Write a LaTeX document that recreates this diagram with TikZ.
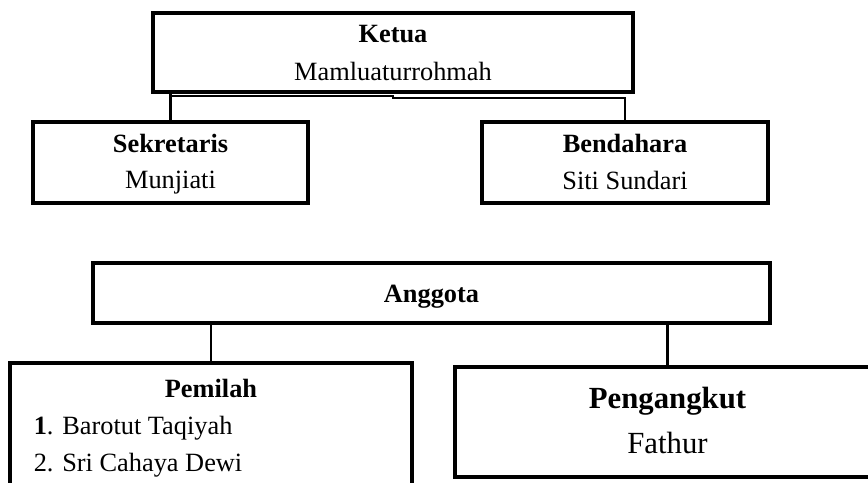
\documentclass[tikz,border=0pt]{standalone}
\usepackage{fontspec}
\setmainfont{Liberation Serif}
\usetikzlibrary{positioning, fit}
\tikzset{
x=0.016cm, y=-0.016cm, % one unit is one pixel of the sketch, y going down
box/.style={draw, line width=1.8pt, inner sep=0pt}, % the framed boxes
conn/.style={line width=1.1pt}, % the lines joining the boxes
txt/.style={anchor=base, font=\fontsize{12}{14}\selectfont}, % text in a box
bigtxt/.style={anchor=base, font=\fontsize{14}{16}\selectfont}, % bigger text
}
\begin{document}
\begin{tikzpicture}
    \clip (0,0) rectangle (868,482);
    \fill[white] (0,0) rectangle (868,482);
    % pengurus
    \node[box, fit={(153,13) (633,92)}] (ketua) {};
    \node[box, fit={(33,122) (308,203)}] (sek) {};
    \node[box, fit={(482,122) (768,203)}] (bend) {};
    \node[txt] (ketuaT) at (393,42) {\textbf{Ketua}};
    \node[txt] (ketuaN) at (393,80) {Mamluaturrohmah};
    \node[txt] (sekT) at (170.5,152) {\textbf{Sekretaris}};
    \node[txt] (sekN) at (170.5,188) {Munjiati};
    \node[txt] (bendT) at (625,152) {\textbf{Bendahara}};
    \node[txt] (bendN) at (625,189) {Siti Sundari};
    % anggota
    \node[box, fit={(93,263) (770,323)}] (anggota) {};
    \node[box, fit={(10,363) (412,500)}] (pemilah) {};
    \node[box, fit={(455,367) (880,477)}] (angkut) {};
    \node[txt] (anggotaT) at (431.5,302) {\textbf{Anggota}};
    \node[txt] (pemilahT) at (211,397) {\textbf{Pemilah}};
    \node[txt, anchor=base west] (pem1) at (26,434) {\textbf{1}. Barotut Taqiyah};
    \node[txt, anchor=base west] (pem2) at (26,471) {2. Sri Cahaya Dewi};
    \node[bigtxt] (angkutT) at (667.5,408) {\textbf{Pengangkut}};
    \node[bigtxt] (angkutN) at (667.5,453) {Fathur};
    % garis
    \coordinate (stepL) at (393,96);
    \coordinate (stepR) at (393,98);
    \draw[conn] (ketua.south -| sek.north) -- (sek.north);
    \draw[conn] (sek.north |- stepL) -- (stepL) -- (stepR) -| (bend.north);
    \draw[conn] (anggota.south -| pemilah.north) -- (pemilah.north);
    \draw[conn] (anggota.south -| angkut.north) -- (angkut.north);
\end{tikzpicture}
\end{document}
